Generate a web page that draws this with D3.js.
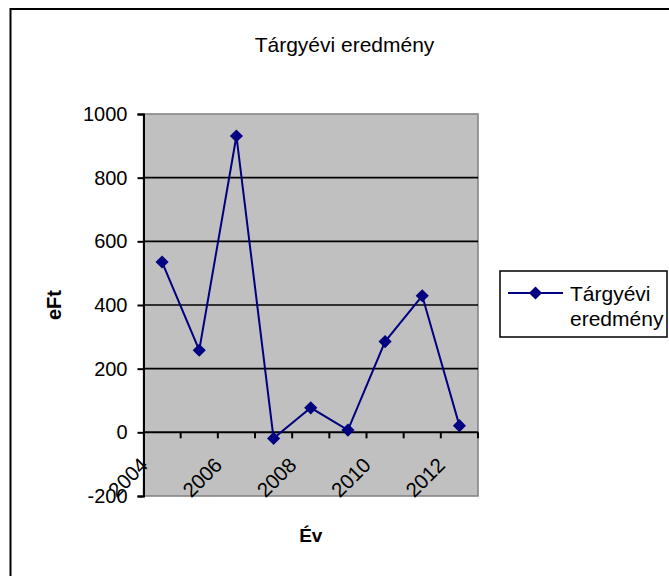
<!DOCTYPE html>
<html>
<head>
<meta charset="utf-8">
<title>Tárgyévi eredmény</title>
<script src="https://cdnjs.cloudflare.com/ajax/libs/d3/7.8.5/d3.min.js"></script>
<style>
body {
    margin: 0;
    background: #fff;
    font-family: "Liberation Sans", Arial, sans-serif;
}
.grid line {
    stroke: #000;
    stroke-width: 1.6px;
}
.series {
    fill: none;
    stroke: #000080;
    stroke-width: 2px;
}
.marker {
    fill: #000080;
    stroke: none;
}
</style>
</head>
<body>
<div id="chart"></div>
<script>
var years   = ['2004', '2005', '2006', '2007', '2008', '2009', '2010', '2011', '2012'],
    values  = [535, 258, 931, -19, 77, 7, 285, 429, 21],
    yTicks  = [-200, 0, 200, 400, 600, 800, 1000],
    xLabels = ['2004', '2006', '2008', '2010', '2012'],
    title   = 'Tárgyévi eredmény',
    yTitle  = 'eFt',
    xTitle  = 'Év',
    legendLines = ['Tárgyévi', 'eredmény'];

var width  = 669,
    height = 576,
    plot   = {left: 143.5, right: 478, top: 114, bottom: 496};

var svg = d3.select('#chart')
    .append('svg')
    .attr('width', width)
    .attr('height', height);

// outer chart frame (runs off the right and bottom edges)
svg.append('rect')
    .attr('x', 10.5).attr('y', 9)
    .attr('width', 700).attr('height', 620)
    .attr('fill', '#fff')
    .attr('stroke', '#000')
    .attr('stroke-width', 2);

var x = d3.scaleBand().domain(years).range([plot.left, plot.right]).padding(0);
var y = d3.scaleLinear().domain([-200, 1000]).range([plot.bottom, plot.top]);

// plot area
svg.append('rect')
    .attr('x', plot.left).attr('y', plot.top)
    .attr('width', plot.right - plot.left)
    .attr('height', plot.bottom - plot.top)
    .attr('fill', '#c0c0c0')
    .attr('stroke', '#808080')
    .attr('stroke-width', 1.5);

// gridlines
svg.append('g')
    .attr('class', 'grid')
    .selectAll('line')
    .data(yTicks.filter(function(d) { return d > 0 && d < 1000; }))
    .enter().append('line')
    .attr('x1', plot.left).attr('x2', plot.right)
    .attr('y1', function(d) { return y(d); })
    .attr('y2', function(d) { return y(d); });

// y axis
var yAxis = d3.axisLeft(y)
    .tickValues(yTicks)
    .tickFormat(function(d) { return String(d); })
    .tickSize(6)
    .tickPadding(10);
var gy = svg.append('g')
    .attr('transform', 'translate(' + plot.left + ',0)')
    .call(yAxis);
gy.select('.domain').attr('stroke', '#000').attr('stroke-width', 2);
gy.selectAll('.tick line').attr('stroke', '#000').attr('stroke-width', 2);
gy.selectAll('.tick text')
    .attr('font-family', '"Liberation Sans", Arial, sans-serif')
    .attr('font-size', 20)
    .attr('fill', '#000');

// x axis at zero
var bounds = years.map(function(d) { return x(d); }).concat([plot.right]);
var gx = svg.append('g');
gx.append('line')
    .attr('x1', plot.left).attr('x2', plot.right)
    .attr('y1', y(0)).attr('y2', y(0))
    .attr('stroke', '#000').attr('stroke-width', 2);
gx.selectAll('.xtick')
    .data(bounds.slice(1))
    .enter().append('line')
    .attr('class', 'xtick')
    .attr('x1', function(d) { return d; })
    .attr('x2', function(d) { return d; })
    .attr('y1', y(0)).attr('y2', y(0) + 6)
    .attr('stroke', '#000').attr('stroke-width', 2);
gx.selectAll('.xlabel')
    .data(xLabels)
    .enter().append('text')
    .attr('class', 'xlabel')
    .attr('text-anchor', 'end')
    .attr('font-size', 20.5)
    .attr('transform', function(d) {
        var cx = x(d) + x.bandwidth() / 2 - 13;
        return 'translate(' + cx + ',' + (y(0) + 34) + ') rotate(-45)';
    })
    .text(function(d) { return d; });

// series
var line = d3.line()
    .x(function(d, i) { return x(years[i]) + x.bandwidth() / 2; })
    .y(function(d) { return y(d); });
svg.append('path')
    .datum(values)
    .attr('class', 'series')
    .attr('d', line);

var diamond = d3.symbol().type(d3.symbolDiamond2).size(110);
svg.selectAll('.marker')
    .data(values)
    .enter().append('path')
    .attr('class', 'marker')
    .attr('d', diamond)
    .attr('transform', function(d, i) {
        return 'translate(' + (x(years[i]) + x.bandwidth() / 2) + ',' + y(d) + ')';
    });

// titles
svg.append('text')
    .attr('x', 344.5).attr('y', 52)
    .attr('text-anchor', 'middle')
    .attr('font-size', 21)
    .text(title);

svg.append('text')
    .attr('x', (plot.left + plot.right) / 2).attr('y', 542)
    .attr('text-anchor', 'middle')
    .attr('font-size', 19)
    .attr('font-weight', 'bold')
    .text(xTitle);

svg.append('text')
    .attr('transform', 'translate(61,' + ((plot.top + plot.bottom) / 2) + ') rotate(-90)')
    .attr('text-anchor', 'middle')
    .attr('font-size', 20)
    .attr('font-weight', 'bold')
    .text(yTitle);

// legend
var lg = svg.append('g');
lg.append('rect')
    .attr('x', 500).attr('y', 271)
    .attr('width', 167).attr('height', 66)
    .attr('fill', '#fff')
    .attr('stroke', '#000')
    .attr('stroke-width', 1.5);
lg.append('line')
    .attr('x1', 508).attr('x2', 563)
    .attr('y1', 293).attr('y2', 293)
    .attr('stroke', '#000080').attr('stroke-width', 2);
lg.append('path')
    .attr('class', 'marker')
    .attr('d', diamond)
    .attr('transform', 'translate(535.5,293)');
lg.selectAll('.ltext')
    .data(legendLines)
    .enter().append('text')
    .attr('class', 'ltext')
    .attr('x', 570)
    .attr('y', function(d, i) { return 300.5 + i * 25; })
    .attr('font-size', 21)
    .text(function(d) { return d; });
</script>
</body>
</html>
